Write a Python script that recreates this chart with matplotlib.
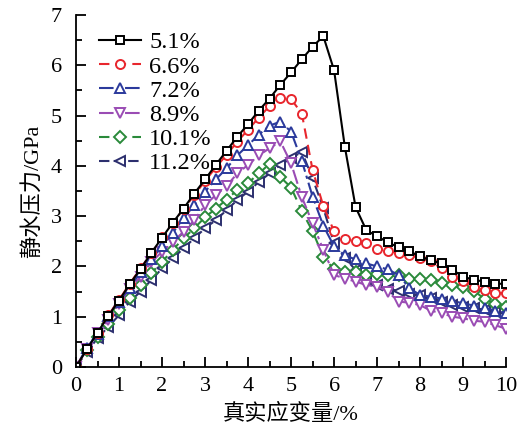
import numpy as np
import matplotlib
matplotlib.use("Agg")
import matplotlib.pyplot as plt
from matplotlib.ticker import MultipleLocator

# strain in %, markers every 0.25 %
strain = np.arange(0, 10.01, 0.25)

labels = ["5.1%", "6.6%", "7.2%", "8.9%", "10.1%", "11.2%"]

p_51 = [0, 0.35, 0.68, 1.02, 1.32, 1.65, 1.95, 2.27, 2.57, 2.87, 3.15, 3.45, 3.73, 4.02, 4.30, 4.58,
        4.83, 5.10, 5.34, 5.61, 5.86, 6.12, 6.37, 6.58, 5.90, 4.38, 3.18, 2.72, 2.60, 2.48, 2.38,
        2.30, 2.20, 2.12, 2.06, 1.93, 1.80, 1.73, 1.70, 1.66, 1.65]
p_66 = [0, 0.35, 0.67, 1.03, 1.33, 1.66, 1.96, 2.26, 2.58, 2.87, 3.14, 3.42, 3.70, 3.97, 4.22, 4.48,
        4.72, 4.96, 5.19, 5.36, 5.33, 5.04, 3.92, 3.20, 2.70, 2.55, 2.50, 2.47, 2.35, 2.31, 2.27,
        2.23, 2.16, 2.10, 1.96, 1.80, 1.72, 1.60, 1.53, 1.47, 1.47]
p_72 = [0, 0.38, 0.66, 1.01, 1.30, 1.58, 1.89, 2.14, 2.40, 2.67, 2.96, 3.22, 3.49, 3.73, 3.95, 4.21,
        4.41, 4.62, 4.80, 4.88, 4.68, 4.10, 3.39, 2.81, 2.40, 2.22, 2.14, 2.06, 2.00, 1.94, 1.83,
        1.57, 1.43, 1.40, 1.36, 1.31, 1.27, 1.22, 1.18, 1.12, 1.08]
p_89 = [0, 0.35, 0.67, 0.93, 1.26, 1.56, 1.80, 2.09, 2.29, 2.49, 2.69, 2.92, 3.22, 3.42, 3.60, 3.85,
        4.02, 4.21, 4.35, 4.49, 4.05, 3.38, 2.86, 2.33, 1.83, 1.76, 1.70, 1.63, 1.60, 1.50, 1.30,
        1.28, 1.23, 1.12, 1.07, 1.00, 0.97, 0.92, 0.90, 0.83, 0.76]
p_101 = [0, 0.33, 0.60, 0.86, 1.13, 1.37, 1.63, 1.87, 2.09, 2.33, 2.56, 2.76, 2.98, 3.15, 3.33, 3.52,
         3.66, 3.85, 4.04, 3.78, 3.57, 3.10, 2.70, 2.19, 1.94, 1.88, 1.88, 1.83, 1.85, 1.82, 1.82,
         1.76, 1.76, 1.74, 1.68, 1.64, 1.60, 1.52, 1.35, 1.26, 1.19]
p_112 = [0, 0.30, 0.57, 0.80, 1.03, 1.30, 1.50, 1.73, 1.96, 2.16, 2.36, 2.56, 2.76, 2.92, 3.12, 3.32,
         3.49, 3.68, 3.85, 4.02, 4.15, 4.28, 3.75, 3.16, 2.46, 2.17, 1.93, 1.74, 1.63, 1.56, 1.51,
         1.46, 1.43, 1.38, 1.30, 1.24, 1.19, 1.17, 1.14, 1.10, 1.07]

series = [p_51, p_66, p_72, p_89, p_101, p_112]
colors = ["black", "#e8262d", "#2b3a9c", "#9a4cb4", "#2a8a3a", "#2c2f6e"]
markers = ["s", "o", "^", "v", "D", "<"]
msizes = [6, 6.5, 7.5, 7.5, 6, 7.5]
styles = ["-", (0, (5, 3)), (0, (7, 2, 1.5, 2)), (0, (7, 2, 1.5, 2)), (0, (5, 3)), (0, (5, 2, 1.5, 2, 1.5, 2))]

plt.rcParams['font.family'] = ['Liberation Serif', 'Noto Sans CJK SC']
plt.rcParams['font.size'] = 16

fig = plt.figure(figsize=(5.17, 4.30), dpi=100)
ax = fig.add_axes([0.147, 0.1465, 0.832, 0.8185])

# draw the last series first so black ends on top
for i in reversed(range(len(series))):
    ax.plot(strain, series[i], color=colors[i], linestyle=styles[i], linewidth=1.5,
            marker=markers[i], markersize=msizes[i], markerfacecolor="white",
            markeredgecolor=colors[i], markeredgewidth=1.4, label=labels[i])

ax.set_xlim(0, 10)
ax.set_ylim(0, 7)
ax.xaxis.set_major_locator(MultipleLocator(1))
ax.xaxis.set_minor_locator(MultipleLocator(0.5))
ax.yaxis.set_major_locator(MultipleLocator(1))
ax.yaxis.set_minor_locator(MultipleLocator(0.5))
ax.tick_params(which="both", direction="in", width=1.3)
ax.tick_params(which="major", length=7, labelsize=16)
ax.tick_params(axis="x", which="major", pad=7)
ax.tick_params(axis="y", which="major", pad=10)
ax.tick_params(which="minor", length=4)
for side in ["top", "right"]:
    ax.spines[side].set_visible(False)
for side in ["left", "bottom"]:
    ax.spines[side].set_linewidth(1.3)

ax.set_xlabel("真实应变量/%", fontsize=16, labelpad=6)
ax.set_ylabel("静水压力/GPa", fontsize=16, labelpad=6)

h, l = ax.get_legend_handles_labels()
ax.legend(h[::-1], l[::-1], loc="upper left", bbox_to_anchor=(0.02, 0.995), frameon=False,
          fontsize=17.5, handlelength=1.7, handletextpad=0.35, labelspacing=0.09, borderaxespad=0.2)

fig.savefig("out.png", dpi=100)
